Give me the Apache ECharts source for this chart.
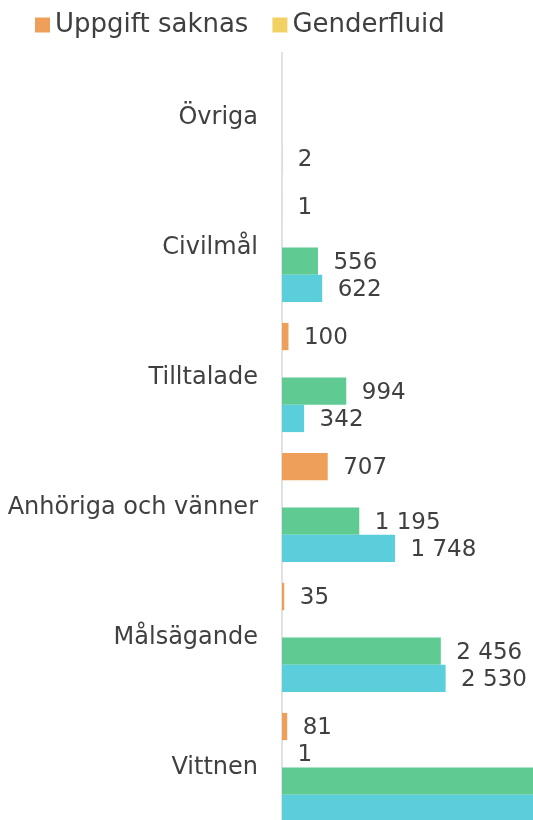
<!DOCTYPE html>
<html>
<head>
<meta charset="utf-8">
<script src="https://cdn.jsdelivr.net/npm/echarts@6/dist/echarts.min.js"></script>
<style>html,body{margin:0;padding:0;background:#fff}#c{width:533px;height:820px}</style>
</head>
<body>
<div id="c"></div>
<script>
const categories = ['Vittnen', 'Målsägande', 'Anhöriga och vänner', 'Tilltalade', 'Civilmål', 'Övriga'];
const kvinnor = [5200, 2530, 1748, 342, 622, 2];
const man = [4900, 2456, 1195, 994, 556, null];
const genderfluid = [1, null, null, null, null, null];
const uppgiftSaknas = [81, 35, 707, 100, 1, null];

const FONT = 'DejaVu Sans';
const fmt = p => {
  if (p.value == null) return '';
  return String(p.value).replace(/\B(?=(\d{3})+(?!\d))/g, ' ');
};
const lbl = {show: true, position: 'right', distance: 15.5, offset: [0, 1.5], color: '#404040', fontSize: 23, fontFamily: FONT, formatter: fmt};
const mk = (name, data, color) => ({name, type: 'bar', data, itemStyle: {color}, label: lbl, barGap: '0%', barCategoryGap: '16%'});

const chart = echarts.init(document.getElementById('c'));
chart.setOption({
  animation: false,
  textStyle: {fontFamily: FONT},
  legend: {
    data: ['Uppgift saknas', 'Genderfluid'],
    left: 30, top: 7, itemWidth: 15, itemHeight: 15, itemGap: 24,
    icon: 'rect',
    textStyle: {fontSize: 26, color: '#404040', fontFamily: FONT}
  },
  grid: {left: 282, top: 52.5, height: 780, width: 388, containLabel: false, outerBoundsMode: 'none'},
  xAxis: {type: 'value', min: 0, max: 6000, show: false, splitLine: {show: false}},
  yAxis: {
    type: 'category', data: categories,
    axisLine: {show: true, lineStyle: {color: '#d9d9d9', width: 1.5}},
    axisTick: {show: false},
    axisLabel: {color: '#404040', fontSize: 24, margin: 24, fontFamily: FONT}
  },
  series: [
    mk('Uppgift saknas', uppgiftSaknas, '#EEA05A'),
    mk('Genderfluid', genderfluid, '#F2D163'),
    mk('Män', man, '#5FCB93'),
    mk('Kvinnor', kvinnor, '#5BCEDC')
  ]
});
</script>
</body>
</html>
